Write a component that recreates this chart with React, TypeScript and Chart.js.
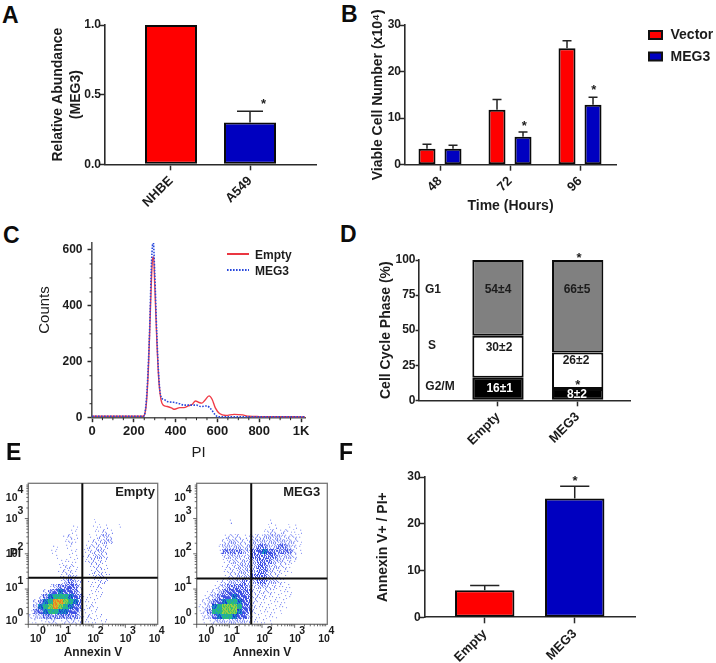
import React, { useEffect, useRef } from "react";
import { Chart, registerables } from "chart.js";

Chart.register(...registerables);

// ---------- data ----------
const aCategories = ["NHBE", "A549"];
const aValues = [1.0, 0.3];
const aErrTop = [null, 0.38];
const aTicks = [0, 0.5, 1];

const bCategories = ["48", "72", "96"];
const bVector = [3.4, 11.8, 25];
const bMeg3 = [3.4, 6, 12.9];
const bVectorErr = [4.4, 14, 26.6];
const bMeg3Err = [4.2, 7, 14.5];
const bTicks = [0, 10, 20, 30];

const cXTicks = [0, 200, 400, 600, 800, 1000];
const cYTicks = [0, 200, 400, 600];
const cEmptyX = [0, 245, 250, 260, 270, 280, 290, 295, 300, 310, 320, 330, 340, 360, 380, 395, 420, 440, 460, 480, 495, 510, 525, 540, 560, 575, 590, 610, 640, 680, 720, 750, 800, 1020];
const cEmptyY = [5, 5, 8, 50, 180, 400, 570, 575, 480, 280, 130, 65, 45, 40, 35, 30, 36, 36, 42, 48, 60, 55, 52, 62, 78, 65, 35, 15, 8, 12, 10, 5, 4, 3];
const cMeg3X = [0, 245, 255, 265, 275, 285, 293, 300, 310, 320, 330, 345, 360, 390, 420, 440, 470, 500, 520, 550, 570, 590, 605, 1020];
const cMeg3Y = [5, 5, 25, 120, 300, 560, 630, 520, 300, 140, 75, 65, 58, 55, 50, 45, 45, 45, 40, 42, 30, 10, 3, 3];

const dCategories = ["Empty", "MEG3"];
const dG2M = [16, 8];
const dS = [30, 26];
const dG1 = [54, 66];
const dTicks = [0, 25, 50, 75, 100];

// flow cytometry density, top row first; 0 = empty, 9 = hottest
const eEmptyDensity = [
  "", "", "", "", "", "", "",
  "00000000000001",
  "00000000010001110010",
  "00000000110001121",
  "00000001210011232",
  "00000001210012233",
  "0000010110012222",
  "0000110011012232",
  "0000010011012332",
  "0000001111012221",
  "0000001221001221",
  "0000001221001221",
  "00000012320012321",
  "0000001343201122",
  "0000134454201120",
  "000245655420111",
  "002467776541111",
  "02467998764111",
  "03678987654121",
  "14567766553111",
  "2334444444312110",
  "1111221222211111",
];
const eMeg3Density = [
  "", "", "", "", "", "", "",
  "0000001000000010",
  "00000000000000110011",
  "000000000000012212111",
  "000001222112233332221",
  "000002332223333333321",
  "000013333233443344321",
  "000014444334565444421",
  "000002333234444433320",
  "00000123233344433221",
  "0000012233334433221",
  "0000012233334432211",
  "000001223334443221",
  "0000123334334433210",
  "00012344443233221110",
  "0012345554422221111",
  "0123455655422211111",
  "023456776542111111",
  "123678887542111111",
  "12477888654211111",
  "0235677655311111",
  "0112333333211110",
];
const eXLabelPos = [0.23, 1.01, 2.01, 3.01, 3.9];
const eYLabelPos = [0.21, 1.125, 2.09, 3.1, 3.7];
const eExponents = ["0", "1", "2", "3", "4"];
const eMinorLog = [0.3, 0.48, 0.6, 0.7, 0.78, 0.85, 0.9, 0.95];

const fCategories = ["Empty", "MEG3"];
const fValues = [5.8, 25.4];
const fErrTop = [6.8, 28];
const fTicks = [0, 10, 20, 30];

// ---------- style ----------
const FF = '"Liberation Sans", Arial, sans-serif';
const INK = "#1c1c1c";
const AXIS = "#2a2a2a";
const RED = "#ff0000";
const BLUE = "#0000c0";

type Box = { x0: number; y0: number; x1: number; y1: number; l: number; t: number; r: number; b: number };
type Note = { t: string; x: number; y: number; size: number; weight?: string; color?: string; align?: CanvasTextAlign; rot?: number };

const boldFont = (size: number, lineHeight = 1.2) => ({ family: FF, size, weight: "bold" as const, lineHeight });

function fitX(box: Box) {
  return (s: any) => {
    s.height = box.y1 - box.b;
  };
}
function fitY(box: Box) {
  return (s: any) => {
    s.width = box.l - box.x0;
  };
}
function padding(box: Box) {
  return { left: 0, bottom: 0, top: box.t - box.y0, right: box.x1 - box.r };
}

function valueAxis(box: Box, max: number, ticks: number[], title: any, fmt?: (v: number) => string, tickLength = 6, pad = -2) {
  return {
    type: "linear",
    min: 0,
    max,
    afterBuildTicks: (s: any) => {
      s.ticks = ticks.map((value) => ({ value }));
    },
    afterFit: fitY(box),
    border: { color: AXIS, width: 1.6 },
    grid: { drawOnChartArea: false, tickLength, tickColor: AXIS, tickWidth: 1.5 },
    ticks: { font: boldFont(12), color: INK, padding: pad, autoSkip: false, callback: fmt || ((v: number) => String(v)) },
    title,
  };
}

function catAxis(box: Box, labels: string[], min: number, max: number, size = 13, title?: any) {
  return {
    type: "linear",
    min,
    max,
    offset: false,
    afterBuildTicks: (s: any) => {
      s.ticks = labels.map((_, i) => ({ value: i }));
    },
    afterFit: fitX(box),
    border: { color: AXIS, width: 1.6 },
    grid: { offset: false, drawOnChartArea: false, tickLength: 6, tickColor: AXIS, tickWidth: 1.5 },
    ticks: {
      font: boldFont(size),
      color: INK,
      autoSkip: false,
      minRotation: 45,
      maxRotation: 45,
      padding: 3,
      callback: (v: number) => labels[v],
    },
    title: title || { display: false },
  };
}

const yTitle = (text: string | string[]) => ({
  display: true,
  text,
  color: INK,
  font: boldFont(14, 18 / 14),
  padding: 0,
});

function drawNotes(ctx: CanvasRenderingContext2D, box: Box, notes: Note[]) {
  for (const n of notes) {
    ctx.save();
    ctx.translate(n.x - box.x0, n.y - box.y0);
    if (n.rot) ctx.rotate(n.rot);
    ctx.font = `${n.weight || "bold"} ${n.size}px ${FF}`;
    ctx.fillStyle = n.color || INK;
    ctx.textAlign = n.align || "center";
    ctx.textBaseline = "middle";
    ctx.fillText(n.t, 0, 0);
    ctx.restore();
  }
}

function overlay(box: Box, notes: Note[], extra?: (chart: any, ctx: CanvasRenderingContext2D) => void) {
  return {
    id: "overlay",
    afterDatasetsDraw(chart: any) {
      const ctx = chart.ctx;
      ctx.save();
      if (extra) extra(chart, ctx);
      ctx.restore();
      drawNotes(ctx, box, notes);
    },
  };
}

function errorBars(errs: (number | null)[][], capHalf: number) {
  return (chart: any, ctx: CanvasRenderingContext2D) => {
    const y = chart.scales.y;
    ctx.strokeStyle = "#222";
    ctx.lineWidth = 1.5;
    errs.forEach((arr, di) => {
      const meta = chart.getDatasetMeta(di);
      arr.forEach((top, i) => {
        if (top == null) return;
        const el = meta.data[i];
        const py = y.getPixelForValue(top);
        ctx.beginPath();
        ctx.moveTo(el.x, el.y);
        ctx.lineTo(el.x, py);
        ctx.moveTo(el.x - capHalf, py);
        ctx.lineTo(el.x + capHalf, py);
        ctx.stroke();
      });
    });
  };
}

const pairs = (vals: number[]) => vals.map((y, x) => ({ x, y }));

function barSet(label: string, vals: number[], color: string, cat: number, bar: number) {
  return {
    label,
    data: pairs(vals),
    backgroundColor: color,
    borderColor: "#0a0a0a",
    borderWidth: 2,
    borderSkipped: false,
    categoryPercentage: cat,
    barPercentage: bar,
  };
}

const baseOptions = (box: Box, scales: any) => ({
  responsive: false,
  animation: false as const,
  layout: { padding: padding(box) },
  plugins: { legend: { display: false }, tooltip: { enabled: false }, title: { display: false } },
  scales,
});

// ---------- density tiles for panel E ----------
const FILL_ORDER = [12, 3, 21, 9, 16, 0, 18, 6, 23, 14, 2, 11, 20, 8, 15, 4, 22, 10, 17, 1, 24, 7, 13, 5, 19];
const DOTS = [0, 2, 5, 9, 14, 19];
const TILE_BASE: Record<number, string> = { 6: "#1c2ed4", 7: "#1c9cc4", 8: "#2cc070", 9: "#c8d030" };
const TILE_TOP: Record<number, string> = { 6: "#1c9cc4", 7: "#2cc070", 8: "#a4d040", 9: "#f07820" };

function makeTile(level: number, variant: number) {
  const c = document.createElement("canvas");
  c.width = 5;
  c.height = 5;
  const g = c.getContext("2d")!;
  const dot = (i: number) => {
    const p = (FILL_ORDER[i] + variant * 7) % 25;
    g.fillRect(p % 5, Math.floor(p / 5), 1, 1);
  };
  if (level >= 6) {
    g.fillStyle = TILE_BASE[level];
    g.fillRect(0, 0, 5, 5);
    g.fillStyle = TILE_TOP[level];
    for (let i = 0; i < 15; i++) dot(i);
  } else {
    g.fillStyle = level >= 4 ? "rgba(30,50,225,0.85)" : "rgba(60,80,235,0.7)";
    for (let i = 0; i < DOTS[level]; i++) dot(i);
  }
  return c;
}

function densityPoints(rows: string[]) {
  const tiles: any[][] = [];
  for (let l = 0; l < 10; l++) tiles.push([0, 1, 2, 3].map((v) => makeTile(l, v)));
  const data: { x: number; y: number }[] = [];
  const styles: any[] = [];
  const cols = 26;
  rows.forEach((row, r) => {
    for (let c = 0; c < row.length; c++) {
      const level = Number(row[c]);
      if (!level) continue;
      data.push({ x: ((c + 0.5) / cols) * 4, y: 4 - ((r + 0.5) / rows.length) * 4 });
      styles.push(tiles[level][(c + r * 3) % 4]);
    }
  });
  return { data, styles };
}

// ---------- panels ----------
function buildA(canvas: HTMLCanvasElement, box: Box) {
  const notes: Note[] = [{ t: "*", x: 263.5, y: 104, size: 13 }];
  return new Chart(canvas, {
    type: "bar",
    data: { datasets: [{ ...barSet("Relative Abundance", aValues, RED, 1, 0.658), backgroundColor: [RED, BLUE] as any }] },
    options: baseOptions(box, {
      x: catAxis(box, aCategories, -0.835, 1.835),
      y: valueAxis(box, 1, aTicks, yTitle(["Relative Abundance", "(MEG3)"]), (v) => v.toFixed(1)),
    }),
    plugins: [overlay(box, notes, errorBars([aErrTop], 13))],
  } as any);
}

function buildB(canvas: HTMLCanvasElement, box: Box) {
  const notes: Note[] = [
    { t: "*", x: 524.3, y: 126, size: 13 },
    { t: "*", x: 593.7, y: 90, size: 13 },
    { t: "Vector", x: 670.5, y: 35, size: 14, align: "left" },
    { t: "MEG3", x: 670.5, y: 57, size: 14, align: "left" },
  ];
  const legend = (chart: any, ctx: CanvasRenderingContext2D) => {
    errorBars([bVectorErr, bMeg3Err], 4.5)(chart, ctx);
    ctx.lineWidth = 2;
    ctx.strokeStyle = "#111";
    ctx.fillStyle = RED;
    ctx.fillRect(649 - box.x0, 31 - box.y0, 13, 8);
    ctx.strokeRect(649 - box.x0, 31 - box.y0, 13, 8);
    ctx.fillStyle = BLUE;
    ctx.fillRect(649 - box.x0, 52.5 - box.y0, 13, 8);
    ctx.strokeRect(649 - box.x0, 52.5 - box.y0, 13, 8);
  };
  return new Chart(canvas, {
    type: "bar",
    data: {
      datasets: [barSet("Vector", bVector, RED, 0.743, 0.654), barSet("MEG3", bMeg3, BLUE, 0.743, 0.654)],
    },
    options: baseOptions(box, {
      x: catAxis(box, bCategories, -0.5, 2.514, 13, yTitle("Time (Hours)")),
      y: valueAxis(box, 30, bTicks, yTitle("Viable Cell Number (x10⁴)")),
    }),
    plugins: [overlay(box, notes, legend)],
  } as any);
}

function buildC(canvas: HTMLCanvasElement, box: Box) {
  const notes: Note[] = [
    { t: "Counts", x: 45, y: 310, size: 15, weight: "normal", rot: -Math.PI / 2 },
    { t: "Empty", x: 255, y: 256, size: 12, align: "left" },
    { t: "MEG3", x: 255, y: 272, size: 12, align: "left" },
  ];
  const extra = (chart: any, ctx: CanvasRenderingContext2D) => {
    const { x, y } = chart.scales;
    ctx.strokeStyle = AXIS;
    ctx.lineWidth = 1;
    ctx.beginPath();
    for (let v = 50; v <= 1000; v += 50) {
      if (v % 200 === 0) continue;
      const px = x.getPixelForValue(v);
      ctx.moveTo(px, box.b - box.y0);
      ctx.lineTo(px, box.b - box.y0 + 2.5);
    }
    for (let v = 50; v <= 600; v += 50) {
      if (v % 200 === 0) continue;
      const py = y.getPixelForValue(v);
      ctx.moveTo(box.l - box.x0, py);
      ctx.lineTo(box.l - box.x0 - 2.5, py);
    }
    ctx.stroke();
    ctx.lineWidth = 1.8;
    ctx.strokeStyle = "#e8202c";
    ctx.beginPath();
    ctx.moveTo(227 - box.x0, 254 - box.y0);
    ctx.lineTo(249 - box.x0, 254 - box.y0);
    ctx.stroke();
    ctx.strokeStyle = "#2848dc";
    ctx.setLineDash([1.6, 1.4]);
    ctx.beginPath();
    ctx.moveTo(227 - box.x0, 270 - box.y0);
    ctx.lineTo(249 - box.x0, 270 - box.y0);
    ctx.stroke();
    ctx.setLineDash([]);
  };
  const toXY = (xs: number[], ys: number[]) => xs.map((x, i) => ({ x, y: ys[i] }));
  return new Chart(canvas, {
    type: "line",
    data: {
      datasets: [
        {
          label: "Empty",
          data: toXY(cEmptyX, cEmptyY),
          borderColor: "#f03c48",
          borderWidth: 1.4,
          pointRadius: 0,
          order: 2,
          cubicInterpolationMode: "monotone",
        },
        {
          label: "MEG3",
          data: toXY(cMeg3X, cMeg3Y),
          borderColor: "#2848dc",
          borderWidth: 1.6,
          borderDash: [1.6, 1.4],
          pointRadius: 0,
          order: 1,
          cubicInterpolationMode: "monotone",
        },
      ],
    },
    options: baseOptions(box, {
      x: {
        type: "linear",
        min: 0,
        max: 1019,
        afterBuildTicks: (s: any) => {
          s.ticks = cXTicks.map((value) => ({ value }));
        },
        afterFit: fitX(box),
        border: { color: "#555", width: 1.6 },
        grid: { drawOnChartArea: false, tickLength: 4.5, tickColor: AXIS, tickWidth: 1.5 },
        ticks: {
          font: boldFont(13),
          color: INK,
          padding: 1,
          maxRotation: 0,
          autoSkip: false,
          callback: (v: number) => (v === 1000 ? "1K" : String(v)),
        },
        title: { display: true, text: "PI", color: INK, font: { family: FF, size: 15, lineHeight: 1.2 }, padding: 0 },
      },
      y: {
        ...valueAxis(box, 625, cYTicks, { display: false }, undefined, 4.5, 5),
        border: { color: "#555", width: 1.6 },
      },
    }),
    plugins: [overlay(box, notes, extra)],
  } as any);
}

function buildD(canvas: HTMLCanvasElement, box: Box) {
  const notes: Note[] = [
    { t: "54±4", x: 498, y: 290, size: 12 },
    { t: "66±5", x: 577, y: 290, size: 12 },
    { t: "30±2", x: 499, y: 348, size: 12 },
    { t: "26±2", x: 576, y: 361, size: 12 },
    { t: "16±1", x: 499.7, y: 388.7, size: 12, color: "#fff" },
    { t: "8±2", x: 577, y: 395, size: 12, color: "#fff" },
    { t: "G1", x: 433, y: 290, size: 12 },
    { t: "S", x: 432, y: 346, size: 12 },
    { t: "G2/M", x: 440, y: 387, size: 12 },
    { t: "*", x: 579, y: 258, size: 13 },
    { t: "*", x: 577.7, y: 385, size: 13 },
  ];
  return new Chart(canvas, {
    type: "bar",
    data: {
      datasets: [
        barSet("G2/M", dG2M, "#000000", 1, 0.644),
        barSet("S", dS, "#ffffff", 1, 0.644),
        barSet("G1", dG1, "#808080", 1, 0.644),
      ],
    },
    options: baseOptions(box, {
      x: { ...catAxis(box, dCategories, -0.991, 1.665), stacked: true },
      y: { ...valueAxis(box, 100, dTicks, yTitle("Cell Cycle Phase (%)"), undefined, 3.5, 0), stacked: true },
    }),
    plugins: [overlay(box, notes)],
  } as any);
}

function buildE(canvas: HTMLCanvasElement, box: Box, rows: string[], label: string, labelX: number, gateX: number, gateY: number, withPI: boolean) {
  const { data, styles } = densityPoints(rows);
  const notes: Note[] = [{ t: label, x: labelX, y: 492, size: 13 }];
  if (withPI) notes.push({ t: "PI", x: 15.5, y: 554, size: 12 });
  const extra = (chart: any, ctx: CanvasRenderingContext2D) => {
    const { x, y } = chart.scales;
    const { left, right, top, bottom } = chart.chartArea;
    ctx.strokeStyle = "#777";
    ctx.lineWidth = 1.3;
    ctx.strokeRect(left, top, right - left, bottom - top);
    ctx.strokeStyle = "#444";
    ctx.lineWidth = 0.8;
    ctx.beginPath();
    for (let d = 0; d < 4; d++) {
      ctx.moveTo(x.getPixelForValue(d), bottom);
      ctx.lineTo(x.getPixelForValue(d), bottom + 3.5);
      ctx.moveTo(left, y.getPixelForValue(d));
      ctx.lineTo(left - 3.5, y.getPixelForValue(d));
      for (const m of eMinorLog) {
        ctx.moveTo(x.getPixelForValue(d + m), bottom);
        ctx.lineTo(x.getPixelForValue(d + m), bottom + 2);
        ctx.moveTo(left, y.getPixelForValue(d + m));
        ctx.lineTo(left - 2, y.getPixelForValue(d + m));
      }
    }
    ctx.stroke();
    ctx.strokeStyle = "#0c0c0c";
    ctx.lineWidth = 2;
    ctx.beginPath();
    ctx.moveTo(x.getPixelForValue(gateX), top);
    ctx.lineTo(x.getPixelForValue(gateX), bottom);
    ctx.moveTo(left, y.getPixelForValue(gateY));
    ctx.lineTo(right, y.getPixelForValue(gateY));
    ctx.stroke();
  };
  return new Chart(canvas, {
    type: "scatter",
    data: {
      datasets: [{ label, data, pointStyle: styles as any, pointRadius: 1, showLine: false }],
    },
    options: baseOptions(box, {
      x: {
        type: "linear",
        min: 0,
        max: 4,
        afterBuildTicks: (s: any) => {
          s.ticks = eXLabelPos.map((value) => ({ value }));
        },
        afterFit: fitX(box),
        border: { display: false },
        grid: { display: false, drawTicks: false },
        ticks: {
          font: boldFont(10.5, 0.72),
          color: INK,
          padding: 3,
          maxRotation: 0,
          autoSkip: false,
          callback: (_v: number, i: number) => ["     " + eExponents[i], "10"],
        },
        title: { display: true, text: "Annexin V", color: INK, font: boldFont(12, 1.3), padding: 0 },
      },
      y: {
        type: "linear",
        min: 0,
        max: 4,
        afterBuildTicks: (s: any) => {
          s.ticks = eYLabelPos.map((value) => ({ value }));
        },
        afterFit: fitY(box),
        border: { display: false },
        grid: { display: false, drawTicks: false },
        ticks: {
          font: boldFont(10.5, 0.72),
          color: INK,
          padding: 5,
          autoSkip: false,
          callback: (_v: number, i: number) => [eExponents[i], "10  "],
        },
      },
    }),
    plugins: [overlay(box, notes, extra)],
  } as any);
}

function buildF(canvas: HTMLCanvasElement, box: Box) {
  const notes: Note[] = [{ t: "*", x: 575, y: 481, size: 13 }];
  return new Chart(canvas, {
    type: "bar",
    data: { datasets: [{ ...barSet("Annexin V+ / PI+", fValues, RED, 1, 0.66), backgroundColor: [RED, BLUE] as any }] },
    options: baseOptions(box, {
      x: catAxis(box, fCategories, -0.667, 1.673),
      y: valueAxis(box, 30, fTicks, yTitle("Annexin V+ / PI+")),
    }),
    plugins: [overlay(box, notes, errorBars([fErrTop], 14.6))],
  } as any);
}

const boxes: Record<string, Box> = {
  a: { x0: 49, y0: 0, x1: 335, y1: 222, l: 105, t: 25, r: 316, b: 164.3 },
  b: { x0: 369, y0: 0, x1: 716, y1: 215, l: 405, t: 25, r: 616, b: 164.7 },
  c: { x0: 30, y0: 225, x1: 330, y1: 462, l: 92, t: 243, r: 305, b: 417.7 },
  d: { x0: 377, y0: 240, x1: 650, y1: 458, l: 419, t: 260, r: 630.7, b: 400.3 },
  e1: { x0: 0, y0: 460, x1: 170, y1: 660, l: 28.3, t: 483.3, r: 157.7, b: 624.3 },
  e2: { x0: 170, y0: 460, x1: 340, y1: 660, l: 196.7, t: 483.3, r: 327.3, b: 624.3 },
  f: { x0: 374, y0: 455, x1: 650, y1: 663, l: 424.7, t: 477, r: 635.3, b: 617.3 },
};

const panelLetters = [
  { t: "A", x: 2, y: 3 },
  { t: "B", x: 341, y: 2 },
  { t: "C", x: 3, y: 223 },
  { t: "D", x: 340, y: 222 },
  { t: "E", x: 6, y: 440 },
  { t: "F", x: 339, y: 440 },
];

export default function App() {
  const refs = useRef<Record<string, HTMLCanvasElement | null>>({});
  useEffect(() => {
    const r = refs.current;
    const charts = [
      buildA(r.a!, boxes.a),
      buildB(r.b!, boxes.b),
      buildC(r.c!, boxes.c),
      buildD(r.d!, boxes.d),
      buildE(r.e1!, boxes.e1, eEmptyDensity, "Empty", 135, 1.67, 1.32, true),
      buildE(r.e2!, boxes.e2, eMeg3Density, "MEG3", 301.7, 1.67, 1.3, false),
      buildF(r.f!, boxes.f),
    ];
    return () => charts.forEach((c) => c.destroy());
  }, []);
  return (
    <div
      style={{
        position: "fixed",
        left: 0,
        top: 0,
        width: 716,
        height: 663,
        background: "#fff",
        overflow: "hidden",
        filter: "blur(0.45px)",
      }}
    >
      {Object.entries(boxes).map(([k, b]) => (
        <canvas
          key={k}
          ref={(el) => {
            refs.current[k] = el;
          }}
          width={b.x1 - b.x0}
          height={b.y1 - b.y0}
          style={{ position: "absolute", left: b.x0, top: b.y0, width: b.x1 - b.x0, height: b.y1 - b.y0 }}
        />
      ))}
      {panelLetters.map((p) => (
        <div
          key={p.t}
          style={{
            position: "absolute",
            left: p.x,
            top: p.y,
            font: `bold 23px/25px ${FF}`,
            color: "#0c0c0c",
          }}
        >
          {p.t}
        </div>
      ))}
    </div>
  );
}
